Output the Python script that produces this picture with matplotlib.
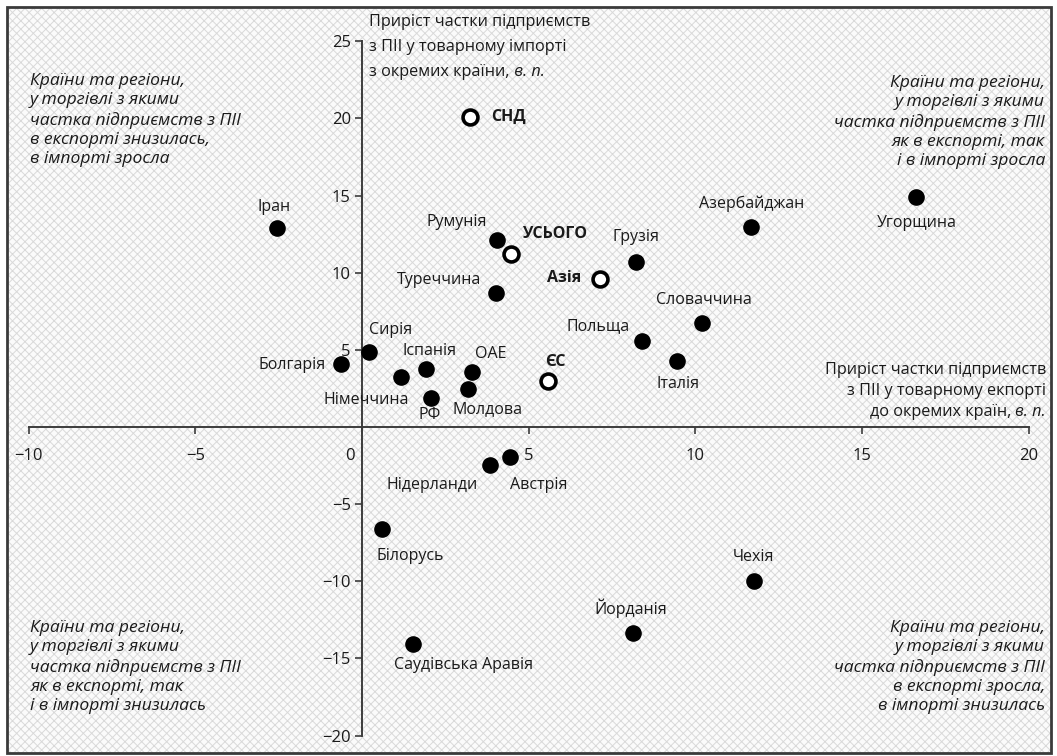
"""Scatter of FDI-enterprise share growth in export vs import by country."""

import matplotlib

matplotlib.use("Agg")
import matplotlib.pyplot as plt
from matplotlib.patches import Rectangle
from matplotlib.transforms import ScaledTranslation

plt.rcParams["font.family"] = ["Open Sans", "DejaVu Sans"]
plt.rcParams["hatch.color"] = "#d9d9d9"
plt.rcParams["hatch.linewidth"] = 0.7

# countries (filled markers)
countries = [
    "Іран", "Румунія", "Туреччина", "Грузія", "Азербайджан", "Угорщина",
    "Словаччина", "Польща", "Італія", "Сирія", "Болгарія", "Німеччина",
    "Іспанія", "РФ", "ОАЕ", "Молдова", "Нідерланди", "Австрія",
    "Білорусь", "Саудівська Аравія", "Йорданія", "Чехія",
]
export_growth = [
    -2.56, 4.04, 4.02, 8.22, 11.66, 16.62,
    10.19, 8.41, 9.44, 0.21, -0.64, 1.17,
    1.92, 2.07, 3.31, 3.18, 3.84, 4.44,
    0.61, 1.52, 8.12, 11.77,
]
import_growth = [
    12.88, 12.12, 8.66, 10.67, 12.98, 14.93,
    6.72, 5.57, 4.28, 4.84, 4.06, 3.22,
    3.76, 1.86, 3.54, 2.46, -2.46, -1.97,
    -6.61, -14.06, -13.37, -9.96,
]

# regions / totals (open markers, bold labels)
regions = ["СНД", "УСЬОГО", "Азія", "ЄС"]
region_export = [3.24, 4.46, 7.14, 5.59]
region_import = [20.07, 11.19, 9.59, 2.98]

x_ticks = [-10, -5, 0, 5, 10, 15, 20]
y_ticks = [-20, -15, -10, -5, 5, 10, 15, 20, 25]

# label placement: offset in pixels from the marker, horizontal alignment
label_pos = {
    "Іран": (-3, 21, "center"), "Румунія": (-10, 18, "right"),
    "Туреччина": (-15, 13, "right"), "Грузія": (0, 25, "center"),
    "Азербайджан": (1, 23, "center"), "Угорщина": (1, -26, "center"),
    "Словаччина": (2, 23, "center"), "Польща": (-13, 15, "right"),
    "Італія": (1, -23, "center"), "Сирія": (0, 22, "left"),
    "Болгарія": (-15, -1, "right"), "Німеччина": (8, -23, "right"),
    "Іспанія": (4, 18, "center"), "РФ": (-1, -17, "center"),
    "ОАЕ": (3, 18, "left"), "Молдова": (20, -20, "center"),
    "Нідерланди": (-12, -20, "right"), "Австрія": (0, -28, "left"),
    "Білорусь": (-6, -27, "left"), "Саудівська Аравія": (-19, -21, "left"),
    "Йорданія": (-2, 25, "center"), "Чехія": (-1, 24, "center"),
    "СНД": (21, 0, "left"), "УСЬОГО": (11, 20, "left"),
    "Азія": (-19, 1, "right"), "ЄС": (7, 19, "center"),
}

W, H = 1057, 756
fig = plt.figure(figsize=(W / 100, H / 100), dpi=100)


def px(x, y):
    return x / W, 1 - y / H


# hatched background and outer frame
fig.patches.append(Rectangle(px(7, 753), 1044 / W, 746 / H, transform=fig.transFigure,
                             facecolor="#fbfbfb", hatch="xxxx", edgecolor="#d9d9d9",
                             lw=0, zorder=-2))
fig.patches.append(Rectangle(px(7, 753), 1044 / W, 746 / H, transform=fig.transFigure,
                             facecolor="none", edgecolor="#3a3a3a", lw=2, zorder=5))

ax = fig.add_axes([0, 0, 1, 1])
ax.patch.set_visible(False)
ax.set_xlim(-10.86, 20.85)
ax.set_ylim(-21.32, 27.67)

axis_col = "#3c3c3c"
for side in ["top", "right"]:
    ax.spines[side].set_visible(False)
ax.spines["left"].set_position(("data", 0))
ax.spines["bottom"].set_position(("data", 0))
ax.spines["left"].set_bounds(-20, 25)
ax.spines["bottom"].set_bounds(-10, 20)
for side in ["left", "bottom"]:
    ax.spines[side].set_color(axis_col)
    ax.spines[side].set_linewidth(1.4)

ax.set_xticks(x_ticks)
ax.set_xticklabels([str(v).replace("-", "\u2212") for v in x_ticks])
ax.set_yticks(y_ticks)
ax.set_yticklabels([str(v).replace("-", "\u2212") for v in y_ticks])
ax.tick_params(axis="x", direction="out", length=5, width=1.2, color=axis_col,
               pad=10, labelsize=12, labelcolor="#1a1a1a")
ax.tick_params(axis="y", direction="out", length=5, width=1.2, color=axis_col,
               pad=3, labelsize=12, labelcolor="#1a1a1a")
# the zero label sits left of the vertical axis
for lab in ax.get_xticklabels():
    if lab.get_text() == "0":
        lab.set_transform(lab.get_transform() + ScaledTranslation(-0.12, 0, fig.dpi_scale_trans))

ax.scatter(export_growth, import_growth, s=120, color="black", zorder=4)
ax.scatter(region_export, region_import, s=115, facecolor="white",
           edgecolor="black", linewidths=2.6, zorder=4)

for name, x, y in zip(countries, export_growth, import_growth):
    dx, dy, ha = label_pos[name]
    ax.annotate(name, (x, y), xytext=(dx, dy), textcoords="offset pixels",
                ha=ha, va="center", fontsize=11.5, color="#1a1a1a")
for name, x, y in zip(regions, region_export, region_import):
    dx, dy, ha = label_pos[name]
    ax.annotate(name, (x, y), xytext=(dx, dy), textcoords="offset pixels",
                ha=ha, va="center", fontsize=11.5, fontweight="bold", color="#1a1a1a")

# axis titles, one line at a time
txt_kw = dict(fontsize=11.7, color="#1a1a1a")
fig.text(*px(369, 22), "Приріст частки підприємств", ha="left", va="center", **txt_kw)
fig.text(*px(369, 47), "з ПІІ у товарному імпорті", ha="left", va="center", **txt_kw)
t1 = fig.text(*px(369, 72), "з окремих країни,", ha="left", va="center", **txt_kw)

fig.text(*px(1046, 370), "Приріст частки підприємств", ha="right", va="center", **txt_kw)
fig.text(*px(1046, 391), "з ПІІ у товарному екпорті", ha="right", va="center", **txt_kw)
t2 = fig.text(*px(1046, 412), "в. п.", ha="right", va="center", style="italic", **txt_kw)

# attach the italic / regular pieces next to each other
fig.canvas.draw()
r = fig.canvas.get_renderer()
bb1 = t1.get_window_extent(r)
fig.text(bb1.x1 / W, 1 - 72 / H, " в. п.", ha="left", va="center", style="italic", **txt_kw)
bb2 = t2.get_window_extent(r)
fig.text(bb2.x0 / W, 1 - 412 / H, "до окремих країн, ", ha="right", va="center", **txt_kw)

# quadrant notes
q_kw = dict(fontsize=12.6, style="italic", color="#1a1a1a", linespacing=1.27, va="center")
fig.text(*px(30, 120), "Країни та регіони,\nу торгівлі з якими\nчастка підприємств з ПІІ\n"
         "в експорті знизилась,\nв імпорті зросла", ha="left", **q_kw)
fig.text(*px(1045, 122), "Країни та регіони,\nу торгівлі з якими\nчастка підприємств з ПІІ\n"
         "як в експорті, так\nі в імпорті зросла", ha="right", multialignment="right", **q_kw)
fig.text(*px(30, 667), "Країни та регіони,\nу торгівлі з якими\nчастка підприємств з ПІІ\n"
         "як в експорті, так\nі в імпорті знизилась", ha="left", **q_kw)
fig.text(*px(1045, 667), "Країни та регіони,\nу торгівлі з якими\nчастка підприємств з ПІІ\n"
         "в експорті зросла,\nв імпорті знизилась", ha="right", multialignment="right", **q_kw)

fig.savefig("out.png", dpi=100)
plt.close(fig)
